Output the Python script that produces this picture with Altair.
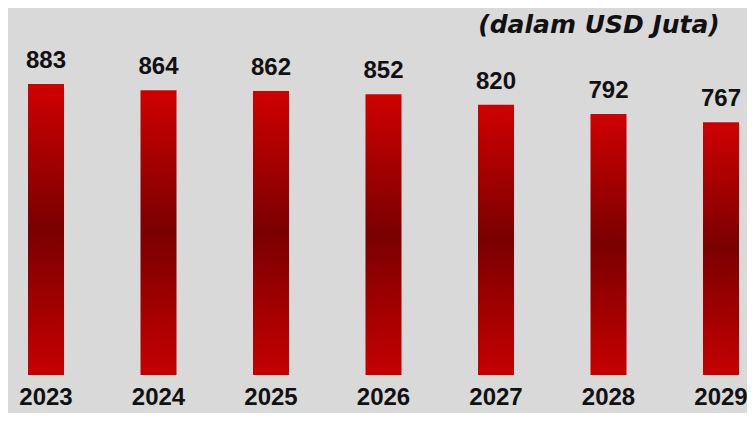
import altair as alt
import pandas as pd

years = ["2023", "2024", "2025", "2026", "2027", "2028", "2029"]
values = [883, 864, 862, 852, 820, 792, 767]
unit_label = "(dalam USD Juta)"

df = pd.DataFrame({"year": years, "value": values})

gradient = alt.Gradient(
    gradient="linear",
    x1=0, y1=0, x2=0, y2=1,
    stops=[
        alt.GradientStop(offset=0, color="#d00000"),
        alt.GradientStop(offset=0.5, color="#7a0000"),
        alt.GradientStop(offset=1, color="#c60000"),
    ],
)

x_enc = alt.X(
    "year:N",
    sort=years,
    axis=None,
    scale=alt.Scale(range=[20, 731], paddingInner=0.68, paddingOuter=0),
)
y_scale = alt.Scale(domain=[0, 883], range=[367, 76])

base = alt.Chart(df)

bars = base.mark_bar(fill=gradient).encode(
    x=x_enc,
    y=alt.Y("value:Q", axis=None, scale=y_scale),
)

value_labels = base.mark_text(
    font="Liberation Sans", fontWeight="bold", fontSize=24,
    baseline="alphabetic", dy=-16, color="#111111",
).encode(
    x=x_enc,
    y=alt.Y("value:Q", axis=None, scale=y_scale),
    text=alt.Text("value:Q", format="d"),
)

year_labels = base.mark_text(
    font="Liberation Sans", fontWeight="bold", fontSize=24,
    baseline="alphabetic", color="#111111",
).encode(
    x=x_enc,
    y=alt.value(397),
    text="year:N",
)

title = alt.Chart(pd.DataFrame({"t": [unit_label]})).mark_text(
    font="DejaVu Sans", fontWeight="bold", fontStyle="italic", fontSize=25,
    baseline="alphabetic", align="center", color="#111111",
).encode(
    x=alt.value(591),
    y=alt.value(25),
    text="t:N",
)

chart = alt.layer(bars, value_labels, year_labels, title).properties(
    width=739,
    height=405,
    background="#d9d9d9",
    padding=0,
    autosize=alt.AutoSizeParams(type="none"),
).configure_view(stroke=None)

chart.save("out.html", embed_options={"renderer": "svg", "actions": False})
